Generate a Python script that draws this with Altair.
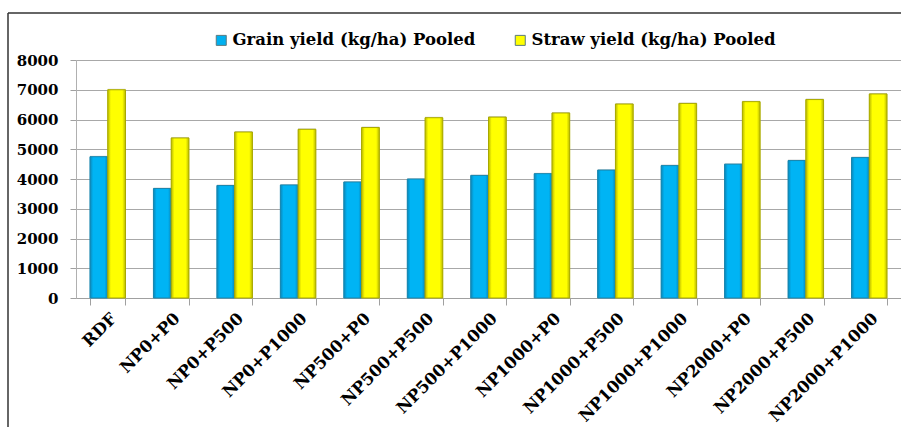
import altair as alt
import pandas as pd

categories = ["RDF", "NP0+P0", "NP0+P500", "NP0+P1000", "NP500+P0", "NP500+P500",
              "NP500+P1000", "NP1000+P0", "NP1000+P500", "NP1000+P1000",
              "NP2000+P0", "NP2000+P500", "NP2000+P1000"]
grain = [4750, 3680, 3780, 3800, 3900, 4000, 4120, 4180, 4300, 4450, 4500, 4620, 4720]
straw = [7000, 5380, 5580, 5670, 5730, 6060, 6080, 6220, 6520, 6540, 6600, 6670, 6860]
series = ["Grain yield (kg/ha) Pooled", "Straw yield (kg/ha) Pooled"]
y_ticks = [0, 1000, 2000, 3000, 4000, 5000, 6000, 7000, 8000]

rows = []
for c, g, s in zip(categories, grain, straw):
    rows.append({"Treatment": c, "Series": series[0], "Yield": g})
    rows.append({"Treatment": c, "Series": series[1], "Yield": s})
df = pd.DataFrame(rows)

FONT = "DejaVu Serif"


def grad(edge, mid):
    return {"gradient": "linear", "x1": 0, "y1": 0, "x2": 1, "y2": 0,
            "stops": [{"offset": 0, "color": edge}, {"offset": 0.18, "color": mid},
                      {"offset": 0.82, "color": mid}, {"offset": 1, "color": edge}]}


x_enc = alt.X("Treatment:N", sort=categories, title=None,
              scale=alt.Scale(paddingInner=0.44, paddingOuter=0.22),
              axis=alt.Axis(labelAngle=-45, labelAlign="right", labelBaseline="top",
                            labelFont=FONT, labelFontWeight="bold", labelFontSize=16.5,
                            labelColor="black", labelPadding=5, tickBand="extent",
                            tickSize=7, tickColor="#a0a0a0", domainColor="#a0a0a0",
                            labelOverlap=False))
xoff_enc = alt.XOffset("Series:N", sort=series, scale=alt.Scale(paddingInner=0))
y_enc = alt.Y("Yield:Q", title=None,
              scale=alt.Scale(domain=[0, 8000], nice=False),
              axis=alt.Axis(values=y_ticks, labelFont=FONT, labelFontWeight="bold",
                            labelFontSize=15, labelColor="black", labelPadding=12,
                            tickSize=6, tickColor="#a0a0a0", domainColor="#b0b0b0",
                            gridColor="#a8a8a8", format="d"))

shadow = alt.Chart(df).mark_bar(color="#bdbdbd", opacity=0.6, xOffset=2, yOffset=-1).encode(
    x=x_enc, xOffset=xoff_enc, y=y_enc)

bars = alt.Chart(df).mark_bar(strokeWidth=1).encode(
    x=x_enc, xOffset=xoff_enc, y=y_enc,
    color=alt.Color("Series:N", sort=series,
                    scale=alt.Scale(domain=series, range=["#00B0F0", "#FFFF00"]),
                    legend=alt.Legend(title=None, orient="none", direction="horizontal",
                                      legendX=137, legendY=-28, padding=0,
                                      symbolType="square", symbolSize=100,
                                      symbolStrokeWidth=1, symbolStrokeColor="#5a7a80",
                                      labelFont=FONT, labelFontWeight="bold",
                                      labelFontSize=16.5, labelColor="black",
                                      labelOffset=3, columnPadding=36,
                                      labelLimit=400)),
)

overlay = alt.Chart(df).mark_bar(strokeWidth=1).encode(
    x=x_enc, xOffset=xoff_enc, y=y_enc,
    fill=alt.condition(alt.datum.Series == series[0],
                       alt.value(grad("#0a86b8", "#00B4F4")),
                       alt.value(grad("#b8b800", "#FFFF00"))),
    stroke=alt.condition(alt.datum.Series == series[0],
                         alt.value("#1b86ad"), alt.value("#a8a800")),
)

frame_top = alt.Chart(alt.Data(values=[{}])).mark_rule(color="#333333", strokeWidth=1.5).encode(
    x=alt.value(-68), x2=alt.value(830), y=alt.value(-47))
frame_left = alt.Chart(alt.Data(values=[{}])).mark_rule(color="#333333", strokeWidth=1.5).encode(
    x=alt.value(-68), y=alt.value(-47), y2=alt.value(370))

chart = alt.layer(shadow, bars, overlay, frame_top, frame_left).properties(
    width=825, height=238,
    autosize=alt.AutoSizeParams(type="none"),
    padding={"left": 76, "top": 60, "right": 0, "bottom": 129},
).configure_view(stroke=None).configure(background="white")

chart.save("out.html", embed_options={"renderer": "svg", "actions": False})
